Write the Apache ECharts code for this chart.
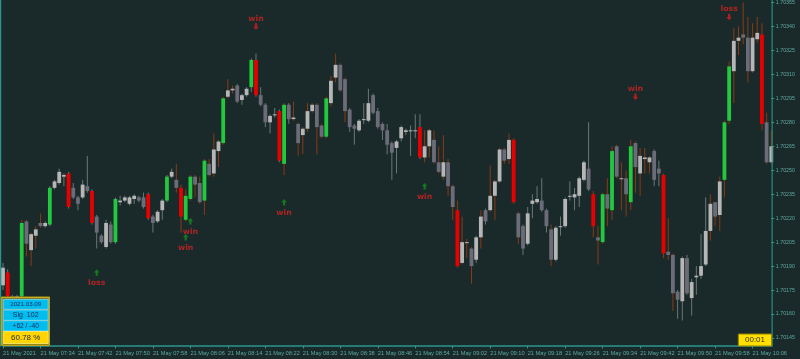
<!DOCTYPE html>
<html>
<head>
<meta charset="utf-8">
<script src="https://cdn.jsdelivr.net/npm/echarts@6/dist/echarts.min.js"></script>
<style>
html,body{margin:0;padding:0;background:#1a2a2a;}
#chart{width:800px;height:359px;}
</style>
</head>
<body>
<div id="chart"></div>
<script>
// ---------- DATA ----------
const dayLabel = '21 May';
const firstLabel = '21 May 2021';
const times = [
"07:26","07:27","07:28","07:29","07:30","07:31","07:32","07:33","07:34","07:35","07:36","07:37","07:38","07:39","07:40","07:41","07:42","07:43","07:44","07:45","07:46","07:47","07:48","07:49","07:50","07:51","07:52","07:53","07:54","07:55","07:56","07:57","07:58","07:59",
"08:00","08:01","08:02","08:03","08:04","08:05","08:06","08:07","08:08","08:09","08:10","08:11","08:12","08:13","08:14","08:15","08:16","08:17","08:18","08:19","08:20","08:21","08:22","08:23","08:24","08:25","08:26","08:27","08:28","08:29","08:30","08:31","08:32","08:33","08:34","08:35","08:36","08:37","08:38","08:39","08:40","08:41","08:42","08:43","08:44","08:45","08:46","08:47","08:48","08:49","08:50","08:51","08:52","08:53","08:54","08:55","08:56","08:57","08:58","08:59",
"09:00","09:01","09:02","09:03","09:04","09:05","09:06","09:07","09:08","09:09","09:10","09:11","09:12","09:13","09:14","09:15","09:16","09:17","09:18","09:19","09:20","09:21","09:22","09:23","09:24","09:25","09:26","09:27","09:28","09:29","09:30","09:31","09:32","09:33","09:34","09:35","09:36","09:37","09:38","09:39","09:40","09:41","09:42","09:43","09:44","09:45","09:46","09:47","09:48","09:49","09:50","09:51","09:52","09:53","09:54","09:55","09:56","09:57","09:58","09:59",
"10:00","10:01","10:02","10:03","10:04","10:05","10:06","10:07","10:08","10:09","10:10"];

const opens = [1.70178,1.70186,1.70171,1.70166,1.70171,1.70218,1.70200,1.70209,1.70217,1.70215,
1.70216,1.70239,1.70242,1.70246,1.70248,1.70239,1.70233,1.70233,1.70240,1.70237,
1.70221,1.70209,1.70202,1.70216,1.70205,1.70230,1.70231,1.70229,1.70232,1.70233,
1.70233,1.70235,1.70221,1.70218,1.70225,1.70231,1.70246,1.70244,1.70239,1.70219,
1.70232,1.70246,1.70242,1.70231,1.70254,1.70248,1.70262,1.70267,1.70296,1.70300,
1.70303,1.70294,1.70297,1.70302,1.70319,1.70297,1.70291,1.70280,1.70285,1.70287,
1.70254,1.70291,1.70282,1.70279,1.70272,1.70276,1.70287,1.70291,1.70278,1.70271,
1.70292,1.70308,1.70316,1.70307,1.70288,1.70278,1.70275,1.70282,1.70281,1.70297,
1.70287,1.70279,1.70275,1.70267,1.70264,1.70270,1.70274,1.70275,1.70275,1.70277,
1.70258,1.70265,1.70269,1.70255,1.70246,1.70255,1.70240,1.70225,1.70192,1.70205,
1.70201,1.70194,1.70208,1.70225,1.70225,1.70234,1.70243,1.70263,1.70257,1.70269,
1.70223,1.70215,1.70204,1.70229,1.70230,1.70231,1.70225,1.70213,1.70194,1.70215,
1.70215,1.70234,1.70233,1.70234,1.70244,1.70251,1.70235,1.70208,1.70205,1.70235,
1.70225,1.70265,1.70245,1.70245,1.70230,1.70267,1.70248,1.70257,1.70255,1.70262,
1.70251,1.70247,1.70199,1.70197,1.70174,1.70168,1.70195,1.70170,1.70183,1.70184,
1.70191,1.70212,1.70230,1.70222,1.70244,1.70281,1.70312,1.70331,1.70335,1.70333,
1.70312,1.70332,1.70335,1.70280,1.70255];

const closes = [1.70189,1.70171,1.70166,1.70171,1.70217,1.70204,1.70210,1.70213,1.70215,1.70217,
1.70239,1.70243,1.70249,1.70247,1.70227,1.70233,1.70229,1.70241,1.70237,1.70217,
1.70211,1.70205,1.70217,1.70205,1.70232,1.70231,1.70233,1.70233,1.70234,1.70231,
1.70227,1.70220,1.70217,1.70224,1.70231,1.70246,1.70249,1.70239,1.70221,1.70234,
1.70246,1.70241,1.70230,1.70256,1.70247,1.70263,1.70268,1.70295,1.70300,1.70301,
1.70293,1.70297,1.70301,1.70319,1.70297,1.70291,1.70280,1.70284,1.70285,1.70256,
1.70291,1.70282,1.70283,1.70267,1.70276,1.70287,1.70291,1.70277,1.70271,1.70295,
1.70306,1.70316,1.70300,1.70287,1.70277,1.70276,1.70281,1.70282,1.70292,1.70286,
1.70277,1.70275,1.70266,1.70261,1.70268,1.70277,1.70275,1.70275,1.70275,1.70258,
1.70265,1.70275,1.70255,1.70249,1.70255,1.70240,1.70227,1.70190,1.70205,1.70205,
1.70190,1.70208,1.70221,1.70218,1.70234,1.70243,1.70263,1.70256,1.70269,1.70230,
1.70208,1.70201,1.70223,1.70231,1.70232,1.70225,1.70215,1.70194,1.70214,1.70215,
1.70232,1.70234,1.70235,1.70245,1.70255,1.70238,1.70215,1.70206,1.70235,1.70226,
1.70262,1.70246,1.70245,1.70235,1.70265,1.70252,1.70259,1.70258,1.70258,1.70244,
1.70248,1.70198,1.70197,1.70173,1.70169,1.70195,1.70173,1.70180,1.70184,1.70190,
1.70212,1.70229,1.70221,1.70243,1.70280,1.70315,1.70331,1.70333,1.70333,1.70312,
1.70333,1.70336,1.70279,1.70255,1.70265];

const highs = [1.70192,1.70188,1.70172,1.70172,1.70219,1.70219,1.70211,1.70215,1.70223,1.70218,
1.70240,1.70244,1.70251,1.70248,1.70249,1.70242,1.70234,1.70244,1.70259,1.70238,
1.70222,1.70210,1.70219,1.70218,1.70233,1.70234,1.70234,1.70234,1.70235,1.70234,
1.70236,1.70236,1.70222,1.70225,1.70232,1.70247,1.70251,1.70254,1.70241,1.70238,
1.70247,1.70247,1.70246,1.70257,1.70257,1.70273,1.70269,1.70296,1.70307,1.70303,
1.70304,1.70298,1.70302,1.70320,1.70323,1.70302,1.70292,1.70285,1.70289,1.70288,
1.70292,1.70292,1.70293,1.70280,1.70277,1.70292,1.70292,1.70292,1.70279,1.70296,
1.70309,1.70323,1.70317,1.70308,1.70289,1.70279,1.70282,1.70292,1.70301,1.70298,
1.70289,1.70280,1.70279,1.70268,1.70269,1.70278,1.70276,1.70278,1.70285,1.70285,
1.70275,1.70276,1.70275,1.70265,1.70272,1.70257,1.70241,1.70231,1.70221,1.70207,
1.70202,1.70209,1.70225,1.70226,1.70253,1.70244,1.70264,1.70264,1.70273,1.70270,
1.70224,1.70216,1.70227,1.70235,1.70240,1.70245,1.70226,1.70216,1.70215,1.70221,
1.70233,1.70243,1.70239,1.70246,1.70256,1.70280,1.70237,1.70215,1.70236,1.70245,
1.70265,1.70266,1.70255,1.70250,1.70269,1.70268,1.70264,1.70264,1.70259,1.70263,
1.70256,1.70248,1.70220,1.70198,1.70175,1.70196,1.70197,1.70182,1.70190,1.70210,
1.70233,1.70235,1.70230,1.70246,1.70281,1.70318,1.70339,1.70340,1.70355,1.70346,
1.70342,1.70346,1.70342,1.70286,1.70275];

const lows = [1.70175,1.70169,1.70162,1.70164,1.70170,1.70196,1.70190,1.70201,1.70214,1.70214,
1.70215,1.70238,1.70241,1.70240,1.70226,1.70232,1.70225,1.70232,1.70236,1.70216,
1.70201,1.70204,1.70201,1.70204,1.70204,1.70228,1.70230,1.70228,1.70229,1.70230,
1.70226,1.70219,1.70211,1.70217,1.70219,1.70230,1.70245,1.70236,1.70211,1.70218,
1.70231,1.70233,1.70229,1.70222,1.70246,1.70246,1.70252,1.70266,1.70295,1.70298,
1.70292,1.70291,1.70296,1.70299,1.70296,1.70290,1.70277,1.70273,1.70283,1.70255,
1.70247,1.70279,1.70281,1.70259,1.70260,1.70274,1.70286,1.70260,1.70270,1.70270,
1.70290,1.70305,1.70299,1.70280,1.70274,1.70266,1.70274,1.70279,1.70280,1.70285,
1.70276,1.70269,1.70260,1.70244,1.70248,1.70268,1.70272,1.70259,1.70270,1.70257,
1.70255,1.70258,1.70254,1.70248,1.70244,1.70234,1.70219,1.70189,1.70191,1.70195,
1.70179,1.70192,1.70201,1.70216,1.70224,1.70219,1.70242,1.70254,1.70254,1.70229,
1.70204,1.70197,1.70203,1.70220,1.70229,1.70224,1.70211,1.70190,1.70193,1.70209,
1.70214,1.70231,1.70225,1.70227,1.70243,1.70237,1.70208,1.70191,1.70204,1.70215,
1.70219,1.70245,1.70225,1.70221,1.70225,1.70236,1.70234,1.70248,1.70248,1.70240,
1.70240,1.70195,1.70194,1.70162,1.70157,1.70156,1.70172,1.70159,1.70172,1.70182,
1.70190,1.70206,1.70215,1.70212,1.70233,1.70279,1.70292,1.70322,1.70329,1.70305,
1.70311,1.70330,1.70275,1.70254,1.70254];

// signal candles: 1 = up signal (green), -1 = down signal (red), 0 = none
const signal = [0,-1,0,0,1,0,0,0,0,0,
1,0,0,0,-1,0,0,0,0,-1,
0,0,0,0,1,0,0,0,0,0,
0,-1,0,0,0,1,0,0,-1,1,
1,0,0,1,0,0,0,1,0,0,
0,0,0,1,-1,0,0,0,0,-1,
1,0,0,0,0,0,0,0,0,1,
0,0,0,0,0,0,0,0,0,0,
0,0,0,0,0,0,0,0,0,-1,
0,0,0,0,0,0,0,-1,0,0,
0,0,0,0,0,0,0,0,0,-1,
0,0,0,0,0,0,0,0,0,0,
0,0,0,0,0,0,-1,0,1,0,
1,0,0,0,1,0,0,0,0,0,
0,-1,0,0,0,0,0,0,0,0,
0,0,0,0,1,1,0,0,0,0,
0,0,-1,0,0];

// wick group: 1 = brown wick, 0 = grey wick
const wickGroup = [0,0,0,0,1,1,1,1,1,0,
0,0,0,0,0,0,0,0,0,0,
0,0,0,0,0,0,0,0,0,0,
0,0,0,0,0,0,0,1,1,1,
1,1,1,1,1,1,1,1,1,1,
0,0,0,0,0,0,0,0,0,0,
1,0,1,1,1,1,1,1,1,1,
1,1,1,1,0,0,0,0,0,0,
0,0,0,0,0,0,0,0,0,0,
1,1,1,1,1,1,1,1,1,1,
1,0,1,0,1,1,1,1,1,1,
1,0,0,0,0,0,0,1,0,0,
0,0,0,0,0,0,1,1,1,1,
1,1,1,1,1,1,1,1,1,0,
0,1,1,1,0,0,0,0,0,0,
0,1,1,1,1,1,1,1,1,1,
1,1,1,1,1];

// trade result annotations
const annIdx   = [20, 39, 40, 54, 60, 90, 135, 155];
const annPrice = [1.70186, 1.70208, 1.70218, 1.70340, 1.70230, 1.70240, 1.70296, 1.70346];
const annText  = ['loss','win','win','win','win','win','win','loss'];
const annDir   = [1, 1, 1, -1, 1, 1, -1, -1];

// info panel
const infoRows = ['2021.03.09', 'Sig  102', '+62 / -40', '60.78 %'];
const timerText = '00:01';

// ---------- STYLE ----------
const C = {
  bg: '#1a2a2a', axis: '#2a968c', label: '#5eaaa2',
  light: '#b6b6b6', dark: '#6c6c78', green: '#22c83e', red: '#e80000',
  wickBrown: '#8a3a14', wickGrey: '#6c7676'
};
const upPath = 'path://M5,0 L10,5 L7,5 L7,10 L3,10 L3,5 L0,5 Z';
const downPath = 'path://M3,0 L7,0 L7,5 L10,5 L5,10 L0,5 L3,5 Z';

const candleData = times.map((t, i) => [i, opens[i], closes[i], lows[i], highs[i], signal[i], wickGroup[i]]);

const chart = echarts.init(document.getElementById('chart'), null, {renderer: 'canvas'});
const option = {
  backgroundColor: C.bg,
  animation: false,
  grid: {left: 0.5, right: 28.7, top: 0, bottom: 21},
  xAxis: {
    type: 'category', data: times, boundaryGap: false, offset: 8,
    axisLine: {lineStyle: {color: C.axis, width: 1.5}},
    axisTick: {interval: 7, length: 2.5, lineStyle: {color: C.axis}},
    axisLabel: {
      interval: 7, align: 'left', margin: 4, color: C.label,
      fontSize: 5.7, fontFamily: 'Liberation Sans',
      formatter: (v, i) => i === 0 ? firstLabel : dayLabel + ' ' + v
    },
    splitLine: {show: false}
  },
  yAxis: {
    type: 'value', position: 'right', min: 1.70145, max: 1.7035625, interval: 0.00015,
    axisLine: {show: false},
    axisTick: {show: true, length: 3, lineStyle: {color: C.axis}},
    axisLabel: {
      showMaxLabel: false, margin: 4.5, color: C.label, fontSize: 5.3,
      fontFamily: 'Liberation Sans', formatter: v => v.toFixed(5)
    },
    splitLine: {show: false}
  },
  series: [
    {
      type: 'custom',
      data: candleData,
      encode: {x: 0, y: [1, 2, 3, 4]},
      renderItem: (params, api) => {
        const i = api.value(0);
        const o = api.value(1), c = api.value(2), l = api.value(3), h = api.value(4);
        const sig = api.value(5), wg = api.value(6);
        const pO = api.coord([i, o]), pC = api.coord([i, c]);
        const pL = api.coord([i, l]), pH = api.coord([i, h]);
        const x = pO[0];
        const top = Math.min(pO[1], pC[1]);
        const bot = Math.max(pO[1], pC[1]);
        const bw = 3.8;
        const fill = sig === 1 ? C.green : sig === -1 ? C.red : (c >= o ? C.light : C.dark);
        const wick = wg ? C.wickBrown : C.wickGrey;
        return {
          type: 'group',
          children: [
            {type: 'line', shape: {x1: x, y1: pH[1], x2: x, y2: pL[1]}, style: {stroke: wick, lineWidth: 1}},
            {type: 'rect', shape: {x: x - bw / 2, y: top, width: bw, height: Math.max(bot - top, 1)}, style: {fill: fill}}
          ]
        };
      }
    },
    {
      type: 'scatter',
      symbolSize: [5.5, 6.5],
      z: 5,
      data: annIdx.map((ix, k) => ({
        value: [ix, annPrice[k]],
        symbol: annDir[k] > 0 ? upPath : downPath,
        itemStyle: {color: annDir[k] > 0 ? '#168a1c' : '#d81c1c'},
        label: {
          show: true, position: 'inside', formatter: annText[k],
          offset: [0, annDir[k] > 0 ? 10.5 : -7.5],
          color: '#d42222', fontSize: 7.8, fontWeight: 'bold', fontFamily: 'DejaVu Sans'
        }
      }))
    }
  ],
  graphic: [
    {type: 'rect', z: 100, shape: {x: 0, y: 0, width: 1.2, height: 346.5}, style: {fill: C.axis}},
    {type: 'rect', z: 100, shape: {x: 771.6, y: 0, width: 1.1, height: 346.5}, style: {fill: C.axis}},
    // info panel
    {type: 'rect', z: 100, shape: {x: 1, y: 296.5, width: 49, height: 49.5}, style: {fill: '#7c6a12'}},
    {type: 'rect', z: 101, shape: {x: 1.8, y: 297.3, width: 47.4, height: 47.9}, style: {fill: 'none', stroke: '#d8c21e', lineWidth: 1}},
    {type: 'rect', z: 102, shape: {x: 3.2, y: 299.3, width: 45, height: 10}, style: {fill: '#00bdf0', stroke: '#8adcf2', lineWidth: 0.8}},
    {type: 'rect', z: 102, shape: {x: 3.2, y: 310.0, width: 45, height: 10.3}, style: {fill: '#00bdf0', stroke: '#8adcf2', lineWidth: 0.8}},
    {type: 'rect', z: 102, shape: {x: 3.2, y: 320.7, width: 45, height: 10.3}, style: {fill: '#00bdf0', stroke: '#8adcf2', lineWidth: 0.8}},
    {type: 'rect', z: 102, shape: {x: 3.2, y: 331.5, width: 45, height: 12}, style: {fill: '#ffd500', stroke: '#fff07a', lineWidth: 0.8}},
    {type: 'text', z: 103, style: {x: 25.7, y: 304.4, text: infoRows[0], fill: '#1c2a5a', font: '6.2px "Liberation Sans"', textAlign: 'center', textVerticalAlign: 'middle'}},
    {type: 'text', z: 103, style: {x: 25.7, y: 315.2, text: infoRows[1], fill: '#1c2a5a', font: '7px "Liberation Sans"', textAlign: 'center', textVerticalAlign: 'middle'}},
    {type: 'text', z: 103, style: {x: 25.7, y: 325.9, text: infoRows[2], fill: '#1c2a5a', font: '6.6px "Liberation Sans"', textAlign: 'center', textVerticalAlign: 'middle'}},
    {type: 'text', z: 103, style: {x: 25.7, y: 337.6, text: infoRows[3], fill: '#2a2a40', font: '8px "Liberation Sans"', textAlign: 'center', textVerticalAlign: 'middle'}},
    // timer box
    {type: 'rect', z: 100, shape: {x: 738.3, y: 334, width: 33.4, height: 12}, style: {fill: '#ffe000', stroke: '#8f7e08', lineWidth: 1}},
    {type: 'text', z: 101, style: {x: 755, y: 340.2, text: timerText, fill: '#3a3200', font: '8px "Liberation Sans"', textAlign: 'center', textVerticalAlign: 'middle'}}
  ]
};
chart.setOption(option);
</script>
</body>
</html>
